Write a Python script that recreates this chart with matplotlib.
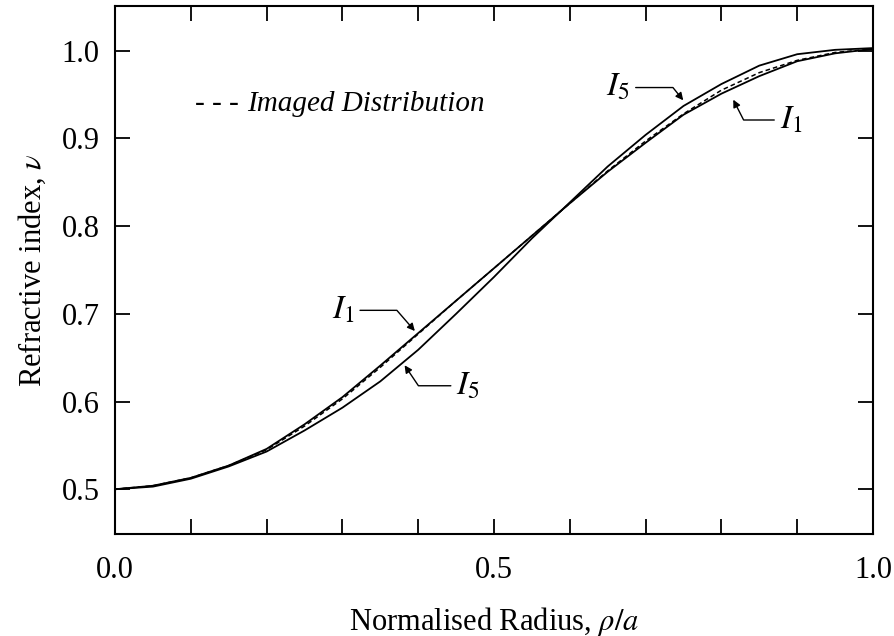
import numpy as np
import matplotlib.pyplot as plt

plt.rcParams['font.family'] = ['Liberation Serif', 'DejaVu Serif']
plt.rcParams['mathtext.fontset'] = 'stix'

# normalised radius samples
rho = [0.0, 0.05, 0.10, 0.15, 0.20, 0.25, 0.30, 0.35, 0.40, 0.45, 0.50,
       0.55, 0.60, 0.65, 0.70, 0.75, 0.80, 0.85, 0.90, 0.95, 1.0]

# imaged distribution (dashed)
imaged = [0.500, 0.504, 0.513, 0.527, 0.545, 0.572, 0.603, 0.639, 0.677, 0.715, 0.752,
          0.789, 0.826, 0.863, 0.897, 0.928, 0.955, 0.975, 0.989, 0.998, 1.002]
# reconstruction I1
i1 = [0.500, 0.504, 0.513, 0.527, 0.546, 0.574, 0.605, 0.641, 0.678, 0.715, 0.752,
      0.789, 0.826, 0.862, 0.895, 0.927, 0.951, 0.971, 0.988, 0.997, 1.002]
# reconstruction I5
i5 = [0.500, 0.503, 0.512, 0.526, 0.543, 0.567, 0.593, 0.623, 0.659, 0.700, 0.742,
      0.786, 0.827, 0.868, 0.904, 0.937, 0.962, 0.983, 0.996, 1.001, 1.003]

fig = plt.figure(figsize=(8.95, 6.36), dpi=100)
ax = fig.add_axes([0.1285, 0.1604, 0.8469, 0.8302])

ax.plot(rho, i1, color='black', lw=1.3)
ax.plot(rho, i5, color='black', lw=1.3)
ax.plot(rho, imaged, color='black', lw=1.1, ls=(0, (3, 2)))

ax.set_xlim(0, 1.0)
ax.set_ylim(0.449, 1.051)

ax.set_xticks(np.arange(0, 1.01, 0.1))
ax.set_xticklabels(['0.0', '', '', '', '', '0.5', '', '', '', '', '1.0'])
ax.set_yticks([0.5, 0.6, 0.7, 0.8, 0.9, 1.0])
ax.set_yticklabels(['0.5', '0.6', '0.7', '0.8', '0.9', '1.0'])

ax.tick_params(axis='x', direction='in', top=True, length=11, width=1.3, labelsize=22, pad=16)
ax.tick_params(axis='y', direction='in', right=True, length=11, width=1.3, labelsize=22, pad=11)
for s in ax.spines.values():
    s.set_linewidth(1.5)

ax.set_xlabel(r'Normalised Radius, $\rho/a$', fontsize=22, labelpad=14)
ax.set_ylabel(r'Refractive index, $\nu$', fontsize=22, labelpad=10)

ax.text(0.1055, 0.814, '- - -', transform=ax.transAxes, fontsize=21,
        va='center', ha='left')
ax.text(0.174, 0.814, 'Imaged Distribution', transform=ax.transAxes, fontsize=21,
        style='italic', va='center', ha='left')

arrow = dict(arrowstyle='-|>', color='black', lw=1.0, mutation_scale=11)

ax.annotate(r'$I_1$', xy=(0.398, 0.678), xytext=(0.301, 0.704), fontsize=24,
            ha='center', va='center',
            arrowprops=dict(arrow, connectionstyle='angle,angleA=0,angleB=131,rad=0'))
ax.annotate(r'$I_5$', xy=(0.380, 0.644), xytext=(0.466, 0.618), fontsize=24,
            ha='center', va='center',
            arrowprops=dict(arrow, connectionstyle='angle,angleA=180,angleB=-56,rad=0'))
ax.annotate(r'$I_5$', xy=(0.752, 0.941), xytext=(0.664, 0.958), fontsize=24,
            ha='center', va='center',
            arrowprops=dict(arrow, connectionstyle='angle,angleA=0,angleB=129,rad=0'))
ax.annotate(r'$I_1$', xy=(0.814, 0.947), xytext=(0.892, 0.921), fontsize=24,
            ha='center', va='center',
            arrowprops=dict(arrow, connectionstyle='angle,angleA=180,angleB=-63,rad=0'))

fig.savefig('out.png', dpi=100)
